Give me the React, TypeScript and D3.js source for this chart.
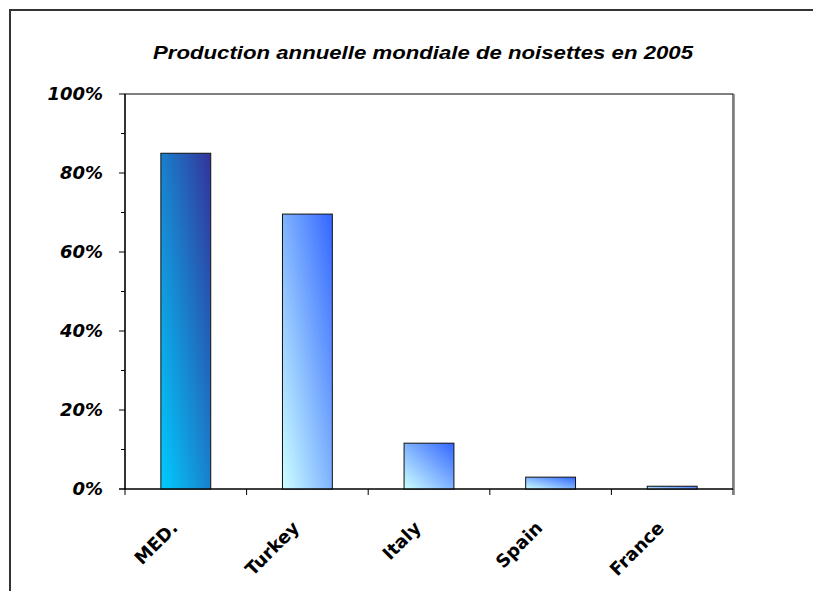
import React from "react";
import * as d3 from "d3";

const categories = ["MED.", "Turkey", "Italy", "Spain", "France"];
const shares = [0.85, 0.696, 0.116, 0.03, 0.007];
const yTicks = [0, 0.2, 0.4, 0.6, 0.8, 1.0];
const yMinorTicks = [0.1, 0.3, 0.5, 0.7, 0.9];
const title = "Production annuelle mondiale de noisettes en 2005";

const W = 813;
const H = 591;
const plot = { left: 125, right: 733, top: 94, bottom: 489 };

export default function App() {
  const x = d3
    .scaleBand<string>()
    .domain(categories)
    .range([plot.left, plot.right])
    .paddingInner(0.59)
    .paddingOuter(0.295);
  const y = d3.scaleLinear().domain([0, 1]).range([plot.bottom, plot.top]);
  const step = x.step();
  const boundaries = d3.range(categories.length + 1).map((i) => plot.left + i * step);
  const fmt = d3.format(".0%");

  return (
    <svg
      width={W}
      height={H}
      style={{ position: "absolute", left: 0, top: 0, background: "#fff" }}
    >
      <defs>
        <linearGradient id="gMed" x1="0" y1="1" x2="1" y2="0">
          <stop offset="0" stopColor="#00ccff" />
          <stop offset="1" stopColor="#333399" />
        </linearGradient>
        <linearGradient id="gOther" x1="0" y1="1" x2="1" y2="0">
          <stop offset="0" stopColor="#ccffff" />
          <stop offset="1" stopColor="#3366ff" />
        </linearGradient>
      </defs>
      <rect x={0} y={0} width={W} height={H} fill="#fff" />
      {/* outer chart frame */}
      <rect x={10} y={10} width={900} height={700} fill="none" stroke="#333" strokeWidth={2} />

      {/* title */}
      <text
        x={423}
        y={59}
        textAnchor="middle"
        fontFamily="'Liberation Sans', Arial, sans-serif"
        fontWeight="bold"
        fontStyle="italic"
        fontSize={17.5}
        textLength={540}
        lengthAdjust="spacingAndGlyphs"
        fill="#000"
      >
        {title}
      </text>

      {/* plot area border */}
      <rect
        x={plot.left}
        y={plot.top}
        width={plot.right - plot.left}
        height={plot.bottom - plot.top}
        fill="#fff"
        stroke="#000"
        strokeWidth={1}
      />
      <line x1={plot.right + 1.5} y1={plot.top} x2={plot.right + 1.5} y2={plot.bottom + 6} stroke="#999" strokeWidth={1} />

      {/* bars */}
      {categories.map((c, i) => (
        <rect
          key={c}
          x={x(c)}
          y={y(shares[i])}
          width={x.bandwidth()}
          height={y(0) - y(shares[i])}
          fill={i === 0 ? "url(#gMed)" : "url(#gOther)"}
          stroke="#111"
          strokeWidth={1}
        />
      ))}

      {/* y axis */}
      <line x1={plot.left} y1={plot.top} x2={plot.left} y2={plot.bottom} stroke="#000" strokeWidth={1.2} />
      {yTicks.map((t) => (
        <g key={"yt" + t}>
          <line x1={plot.left - 6} x2={plot.left} y1={y(t)} y2={y(t)} stroke="#000" />
          <text
            x={103}
            y={y(t)}
            dy="0.36em"
            textAnchor="end"
            fontFamily="'DejaVu Sans', Verdana, sans-serif"
            fontWeight="bold"
            fontStyle="italic"
            fontSize={18}
            fill="#000"
          >
            {fmt(t)}
          </text>
        </g>
      ))}
      {yMinorTicks.map((t) => (
        <line key={"ym" + t} x1={plot.left - 4} x2={plot.left} y1={y(t)} y2={y(t)} stroke="#000" />
      ))}

      {/* x axis */}
      <line x1={plot.left - 6} y1={plot.bottom} x2={plot.right} y2={plot.bottom} stroke="#000" strokeWidth={1.2} />
      {boundaries.map((b, i) => (
        <line key={"xt" + i} x1={b} x2={b} y1={plot.bottom} y2={plot.bottom + 6} stroke="#000" />
      ))}
      {categories.map((c) => {
        const cx = (x(c) as number) + x.bandwidth() / 2 - 7;
        const ay = 529;
        return (
          <text
            key={"xl" + c}
            x={cx}
            y={ay}
            transform={`rotate(-45 ${cx} ${ay})`}
            textAnchor="end"
            fontFamily="'DejaVu Sans', Verdana, sans-serif"
            fontWeight="bold"
            fontSize={18}
            fill="#000"
          >
            {c}
          </text>
        );
      })}
    </svg>
  );
}
